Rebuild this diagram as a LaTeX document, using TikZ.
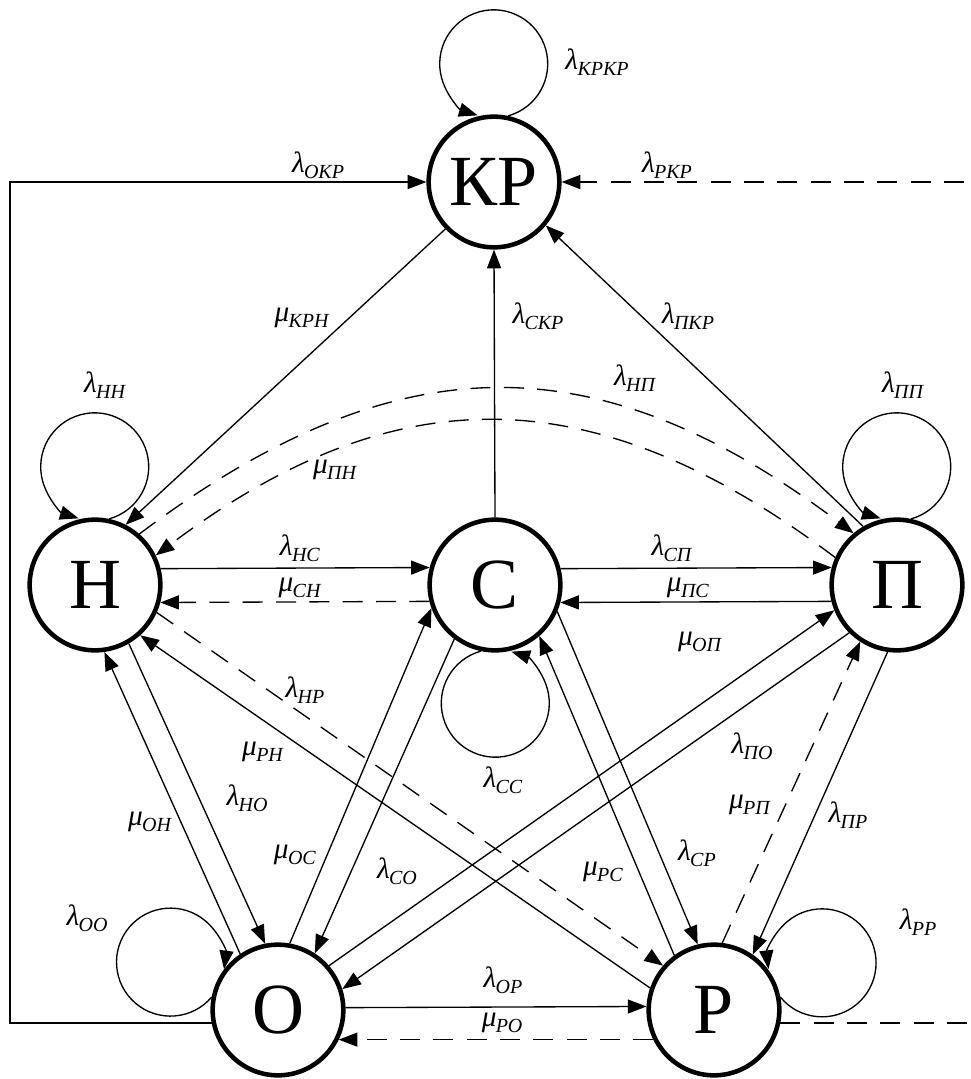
\documentclass[tikz,border=0pt]{standalone}
\usepackage{fontspec}
\setmainfont{Liberation Serif}
\usetikzlibrary{arrows.meta}
\newcommand\lm[2]{\textit{#1}\kern-0.5pt\raisebox{-0.2em}{\fontsize{15}{15}\selectfont\textit{#2}}}
\tikzset{
  st/.style={circle, draw, line width=3.4pt, minimum size=98pt, inner sep=0pt, font=\fontsize{54}{54}\selectfont},
  ln/.style={line width=1pt, -{Triangle[length=14pt,width=10.5pt]}},
  dsh/.style={dash pattern=on 15pt off 10pt},
  lab/.style={inner sep=0pt, font=\fontsize{22}{22}\selectfont},
}
\begin{document}
\begin{tikzpicture}[x=0.75pt,y=-0.75pt]
\useasboundingbox (0,0) rectangle (971,1079);
% states
\node[st] (KR) at (494,182) {КР};
\node[st] (N) at (95,585) {Н};
\node[st] (S) at (495,585) {С};
\node[st] (P) at (897,585) {П};
\node[st] (O) at (278,1010) {О};
\node[st] (R) at (714,1010) {Р};
\coordinate (tl) at (10,182);
\coordinate (tr) at (985,182);
% to KR
\draw[ln] (S.90) -- (KR.270);
\draw[ln] (KR.224) -- (N.63);
\draw[ln] (P.120) -- (KR.320);
\draw[ln] (O.191) -- (O.191 -| tl) -- (tl) -- (KR.west);
\draw[ln,dsh] (R.349) -- (R.349 -| tr) -- (tr) -- (KR.east);
% horizontals
\draw[ln] (N.14.5) -- (S.165.5);
\draw[ln,dsh] (S.194.5) -- (N.345.5);
\draw[ln] (S.14.5) -- (P.165.5);
\draw[ln] (P.194.5) -- (S.345.5);
\draw[ln] (O.2.5) -- (R.177.5);
\draw[ln,dsh] (R.206) -- (O.334);
% arcs H - P
\draw[ln,dsh] (N.49) .. controls +(257,-193) and +(-257,-193) .. (P.130);
\draw[ln,dsh] (P.156) .. controls +(-241,-181) and +(241,-181) .. (N.26);
% lower connections
\draw[ln] (O.124) -- (N.278);
\draw[ln] (N.300) -- (O.101);
\draw[ln] (O.80) -- (S.200.5);
\draw[ln] (S.233) -- (O.57);
\draw[ln] (O.41) -- (P.202);
\draw[ln] (P.225) -- (O.18);
\draw[ln,dsh] (N.336) -- (R.139);
\draw[ln] (R.161) -- (N.312);
\draw[ln] (R.126) -- (S.311);
\draw[ln] (S.337) -- (R.104);
\draw[ln,dsh] (R.83.5) -- (P.237.7);
\draw[ln] (P.262) -- (R.55.6);
% loops
\draw[ln] (KR.78) arc[start angle=74.6, end angle=-252.6, radius=54];
\draw[ln] (N.78) arc[start angle=74.6, end angle=-252.6, radius=54];
\draw[ln] (P.78) arc[start angle=74.6, end angle=-252.6, radius=54];
\draw[ln] (S.258) arc[start angle=-105.4, end angle=-432.6, radius=54];
\draw[ln] (O.169) arc[start angle=40.4, end angle=367.6, radius=54];
\draw[ln] (R.11) arc[start angle=140.6, end angle=-186.6, radius=54];
% labels
\node[lab] (lKRKR) at (597,62) {\lm{λ}{КРКР}};
\node[lab] (lOKR) at (318,165) {\lm{λ}{ОКР}};
\node[lab] (lRKR) at (667,165) {\lm{λ}{РКР}};
\node[lab] (lKRN) at (302,318) {\lm{μ}{КРН}};
\node[lab] (lSKR) at (538,316) {\lm{λ}{СКР}};
\node[lab] (lPKR) at (688,316) {\lm{λ}{ПКР}};
\node[lab] (lNP) at (635,378) {\lm{λ}{НП}};
\node[lab] (lPN) at (335,470) {\lm{μ}{ПН}};
\node[lab] (lNN) at (105,385) {\lm{λ}{НН}};
\node[lab] (lPP) at (903,385) {\lm{λ}{ПП}};
\node[lab] (lNS) at (300,548) {\lm{λ}{НС}};
\node[lab] (lSN) at (300,588) {\lm{μ}{СН}};
\node[lab] (lSP) at (672,548) {\lm{λ}{СП}};
\node[lab] (lPS) at (688,588) {\lm{μ}{ПС}};
\node[lab] (lOP2) at (700,642) {\lm{μ}{ОП}};
\node[lab] (lNR) at (305,690) {\lm{λ}{НР}};
\node[lab] (lRN) at (263,752) {\lm{μ}{РН}};
\node[lab] (lSS) at (503,780) {\lm{λ}{СС}};
\node[lab] (lPO) at (752,746) {\lm{λ}{ПО}};
\node[lab] (lRP2) at (750,805) {\lm{μ}{РП}};
\node[lab] (lPR) at (848,815) {\lm{λ}{ПР}};
\node[lab] (lON) at (150,822) {\lm{μ}{ОН}};
\node[lab] (lNO) at (247,798) {\lm{λ}{НО}};
\node[lab] (lOS) at (295,855) {\lm{μ}{ОС}};
\node[lab] (lSO) at (397,871) {\lm{λ}{СО}};
\node[lab] (lRS) at (603,872) {\lm{μ}{РС}};
\node[lab] (lSR) at (697,853) {\lm{λ}{СР}};
\node[lab] (lOO) at (87,918) {\lm{λ}{ОО}};
\node[lab] (lRR) at (918,922) {\lm{λ}{РР}};
\node[lab] (lOR) at (503,980) {\lm{λ}{ОР}};
\node[lab] (lRO) at (502,1023) {\lm{μ}{РО}};
\end{tikzpicture}
\end{document}
